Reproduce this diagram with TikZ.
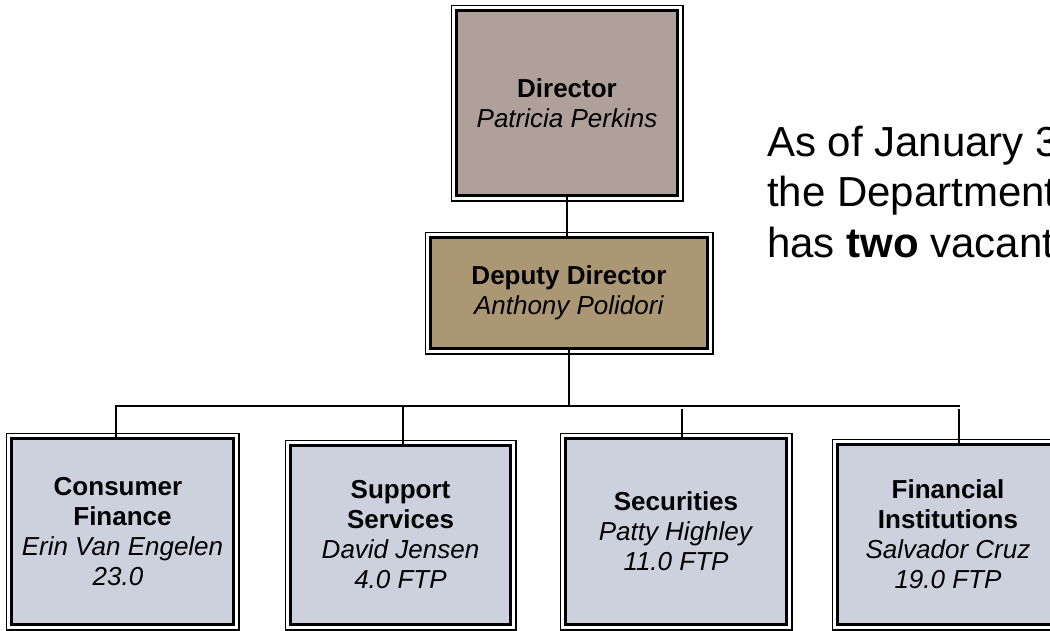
\documentclass[tikz,border=0pt]{standalone}
\usepackage{fontspec}
\setmainfont{Liberation Sans}
\definecolor{dirfill}{RGB}{175,161,153}
\definecolor{depfill}{RGB}{171,151,116}
\definecolor{unitfill}{RGB}{205,209,221}
\newcommand{\pushleft}{\hspace*{9pt}}
\begin{document}
\begin{tikzpicture}[x=1pt,y=-1pt,
  box/.style={draw=black, line width=3pt, inner sep=0pt, align=center,
    font=\fontsize{26}{30}\selectfont},
  frame/.style={draw=black, line width=1.5pt},
  link/.style={draw=black, line width=1.5pt},
  bar/.style={draw=black, line width=2pt},
  note/.style={anchor=base west, inner sep=0pt, font=\fontsize{42}{50}\selectfont}]
\useasboundingbox (0,0) rectangle (1050,630);
\clip (0,0) rectangle (1050,630);

% management boxes
\node[box, fill=dirfill, minimum width=221.5pt, minimum height=185.5pt] (dir) at (567,103)
  {\textbf{Director}\\\textit{Patricia Perkins}};
\node[box, fill=depfill, minimum width=277.5pt, minimum height=111.5pt] (dep) at (569,293)
  {\textbf{Deputy Director}\\\textit{Anthony Polidori}};

% division boxes
\node[box, fill=unitfill, minimum width=222.5pt, minimum height=186.5pt] (cf) at (122.5,531.5)
  {\textbf{Consumer}\pushleft\\\textbf{Finance}\pushleft\\\textit{Erin Van Engelen}\pushleft\\\textit{23.0}\pushleft};
\node[box, fill=unitfill, minimum width=220.5pt, minimum height=179.5pt] (ss) at (400.5,535)
  {\textbf{Support}\\\textbf{Services}\\\textit{David Jensen}\\\textit{4.0 FTP}};
\node[box, fill=unitfill, minimum width=221.5pt, minimum height=186.5pt] (sec) at (676,531.5)
  {\textbf{Securities}\\\textit{Patty Highley}\\\textit{11.0 FTP}};
\node[box, fill=unitfill, minimum width=221.5pt, minimum height=180.5pt] (fi) at (948,534.5)
  {\textbf{Financial}\\\textbf{Institutions}\\\textit{Salvador Cruz}\\\textit{19.0 FTP}};

% outer line of the double frames
\foreach \n in {dir,dep,cf,ss,sec,fi}
  \draw[frame] ([xshift=-3.5pt,yshift=-3.5pt]\n.south west)
    rectangle ([xshift=3.5pt,yshift=3.5pt]\n.north east);

% reporting lines
\coordinate (bl) at (115,406);
\coordinate (br) at (960,406);
\coordinate (t1) at (116,406);
\coordinate (t2) at (403,406);
\coordinate (t3) at (682,409);
\coordinate (t4) at (959,409);
\draw[link] (dir.south) -- (dir.south |- dep.north);
\draw[link] (dep.south) -- (dep.south |- bl);
\draw[bar] (bl) -- (br);
\draw[link] (t1) -- (t1 |- cf.north);
\draw[link] (t2) -- (t2 |- ss.north);
\draw[link] (t3) -- (t3 |- sec.north);
\draw[link] (t4) -- (t4 |- fi.north);

% side note
\node[note] (n1) at (767,156) {As of January 3};
\node[note] (n2) at (767,206) {the Department};
\node[note] (n3) at (767,257) {has \textbf{two} vacant};
\end{tikzpicture}
\end{document}
